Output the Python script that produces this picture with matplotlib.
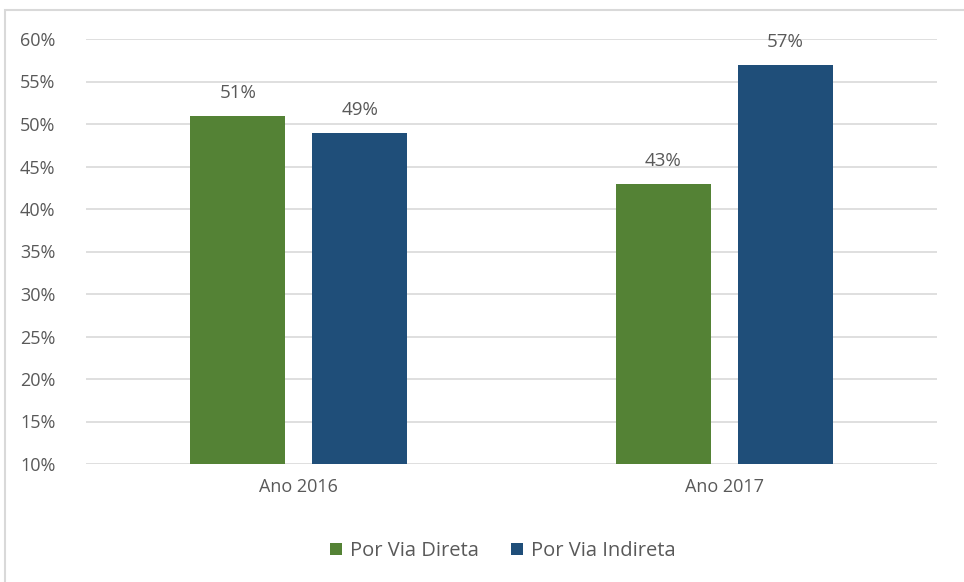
import matplotlib.pyplot as plt
from matplotlib.patches import Rectangle
import numpy as np

categories = ["Ano 2016", "Ano 2017"]
direta = [51, 43]
indireta = [49, 57]
series_names = ["Por Via Direta", "Por Via Indireta"]
yticks = [10, 15, 20, 25, 30, 35, 40, 45, 50, 55, 60]

green = "#548235"
blue = "#1F4E79"
txt = "#595959"
plt.rcParams['font.family'] = ['Open Sans', 'DejaVu Sans']

fig = plt.figure(figsize=(9.64, 5.82), dpi=100)
ax = fig.add_axes([86/964, 1 - 464/582, 851/964, 425/582])

# frame around the whole chart (left and top visible)
fig.patches.append(Rectangle((5/964, -0.1), 1.2, 1 - 10/582 + 0.1, transform=fig.transFigure,
                             fill=False, edgecolor="#D9D9D9", linewidth=1.5))

x = np.arange(len(categories))
w = 0.223
off = 0.143
b1 = ax.bar(x - off, np.array(direta) - 10, w, bottom=10, color=green, label=series_names[0], zorder=3)
b2 = ax.bar(x + off, np.array(indireta) - 10, w, bottom=10, color=blue, label=series_names[1], zorder=3)

for bars, vals in ((b1, direta), (b2, indireta)):
    for r, v in zip(bars, vals):
        ax.text(r.get_x() + r.get_width()/2, v + 1.6, f"{v}%", ha='center', va='bottom',
                fontsize=13.5, color=txt)

ax.set_xlim(-0.5, 1.5)
ax.set_ylim(10, 60)
ax.set_yticks(yticks)
ax.set_yticklabels([f"{t}%" for t in yticks])
ax.set_xticks(x)
ax.set_xticklabels(categories)
ax.grid(axis='y', color="#D9D9D9", linewidth=1.2, zorder=0)
for s in ax.spines.values():
    s.set_visible(False)
ax.tick_params(axis='both', length=0, labelsize=13, colors=txt)
ax.tick_params(axis='y', pad=22)
ax.tick_params(axis='x', pad=10)

ax.legend(loc='center', bbox_to_anchor=(0.49, -0.205), ncol=2, frameon=False, fontsize=14.5,
          labelcolor=txt, handlelength=0.6, handleheight=0.6, columnspacing=1.6, handletextpad=0.4)

fig.savefig("out.png", dpi=100)
